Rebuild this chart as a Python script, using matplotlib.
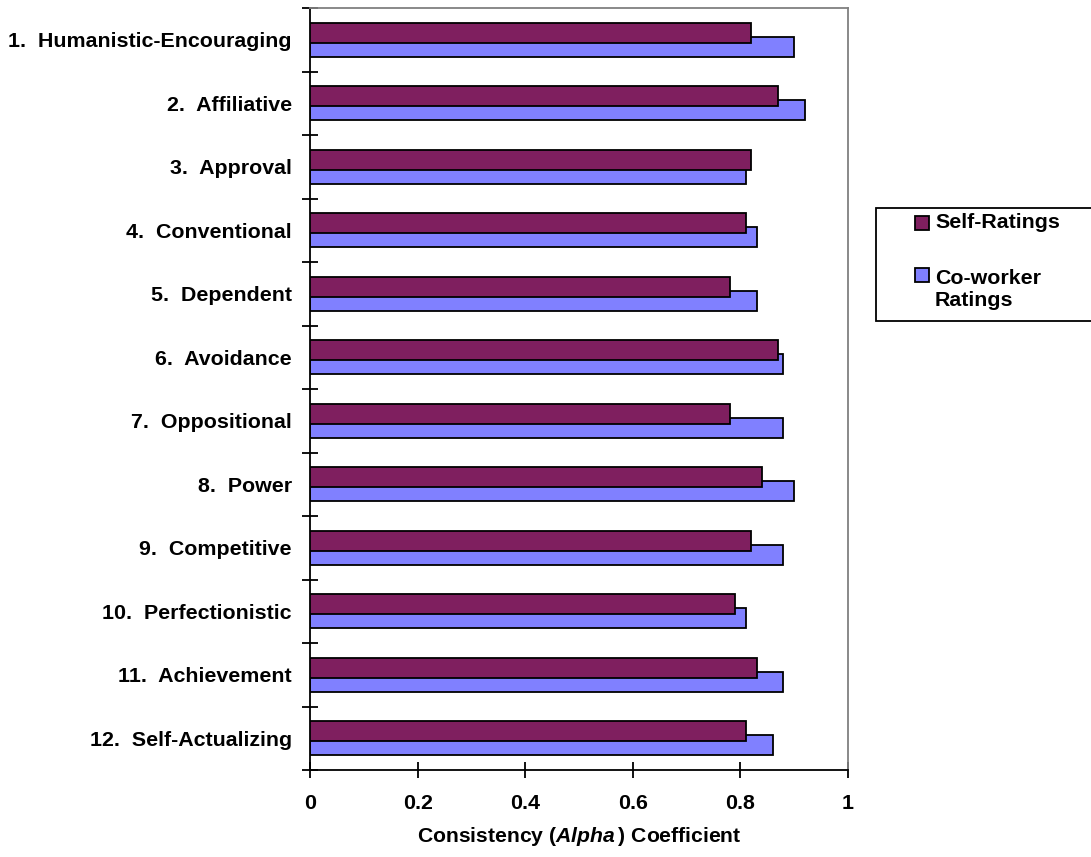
import matplotlib

matplotlib.use("Agg")
import matplotlib.pyplot as plt
import numpy as np
from matplotlib.patches import Rectangle

categories = [
    "1.  Humanistic-Encouraging",
    "2.  Affiliative",
    "3.  Approval",
    "4.  Conventional",
    "5.  Dependent",
    "6.  Avoidance",
    "7.  Oppositional",
    "8.  Power",
    "9.  Competitive",
    "10.  Perfectionistic",
    "11.  Achievement",
    "12.  Self-Actualizing",
]
self_ratings = [0.82, 0.87, 0.82, 0.81, 0.78, 0.87, 0.78, 0.84, 0.82, 0.79, 0.83, 0.81]
coworker_ratings = [0.90, 0.92, 0.81, 0.83, 0.83, 0.88, 0.88, 0.90, 0.88, 0.81, 0.88, 0.86]
series_names = ["Self-Ratings", "Co-worker\nRatings"]
x_ticks = [0, 0.2, 0.4, 0.6, 0.8, 1]

plt.rcParams["font.family"] = ["Liberation Sans", "DejaVu Sans"]
plt.rcParams["font.weight"] = "bold"
plt.rcParams["mathtext.fontset"] = "custom"
plt.rcParams["mathtext.bfit"] = "Liberation Sans:bold:italic"
plt.rcParams["mathtext.bf"] = "Liberation Sans:bold"
plt.rcParams["mathtext.rm"] = "Liberation Sans:bold"

W, H = 1091, 857
dpi = 100
fs = 15.4
fig = plt.figure(figsize=(W / dpi, H / dpi), dpi=dpi)
ax = fig.add_axes([310 / W, 1 - 770 / H, (848 - 310) / W, (770 - 8) / H])

purple = "#7f1f5f"
blue = "#8080ff"
colors = [purple, blue]
y = np.arange(len(categories))
off = 0.11
hgt = 0.315
ax.barh(y + off, coworker_ratings, height=hgt, color=blue,
        edgecolor="black", linewidth=1.3, zorder=2)
ax.barh(y - off, self_ratings, height=hgt, color=purple,
        edgecolor="black", linewidth=1.3, zorder=3)

ax.set_xlim(0, 1)
ax.set_ylim(len(categories) - 0.5, -0.5)

ax.set_yticks(y, categories)
ax.set_yticks(np.arange(-0.5, len(categories), 1), minor=True)
ax.tick_params(axis="y", which="major", length=0, pad=13, labelsize=fs)
ax.tick_params(axis="y", which="minor", direction="inout", length=11, width=1.3)

ax.set_xticks(x_ticks, [f"{t:g}" for t in x_ticks])
ax.tick_params(axis="x", direction="inout", length=11, width=1.3, pad=11.5, labelsize=fs)
ax.set_xlabel(r"Consistency ($\mathbfit{Alpha}\,$) Coefficient", fontsize=15.2,
              fontweight="bold", labelpad=9)

for side in ["left", "bottom"]:
    ax.spines[side].set_color("black")
    ax.spines[side].set_linewidth(1.3)
for side in ["top", "right"]:
    ax.spines[side].set_color("#808080")
    ax.spines[side].set_linewidth(1.3)

# legend drawn by hand: box, swatches, labels
fig.patches.append(Rectangle((876 / W, 1 - 321 / H), (1100 - 876) / W, (321 - 208) / H,
                             transform=fig.transFigure, facecolor="white",
                             edgecolor="black", linewidth=1.3, clip_on=False))
swatch_y = [223, 275]
label_y = [223, 289]
for c, name, sy, ly in zip(colors, series_names, swatch_y, label_y):
    fig.patches.append(Rectangle((915 / W, 1 - (sy + 7) / H), 14 / W, 14 / H,
                                 transform=fig.transFigure, facecolor=c,
                                 edgecolor="black", linewidth=1.3))
    fig.text(935 / W, 1 - ly / H, name, fontsize=fs, fontweight="bold",
             ha="left", va="center", linespacing=1.2)

fig.savefig("out.png", dpi=dpi)
